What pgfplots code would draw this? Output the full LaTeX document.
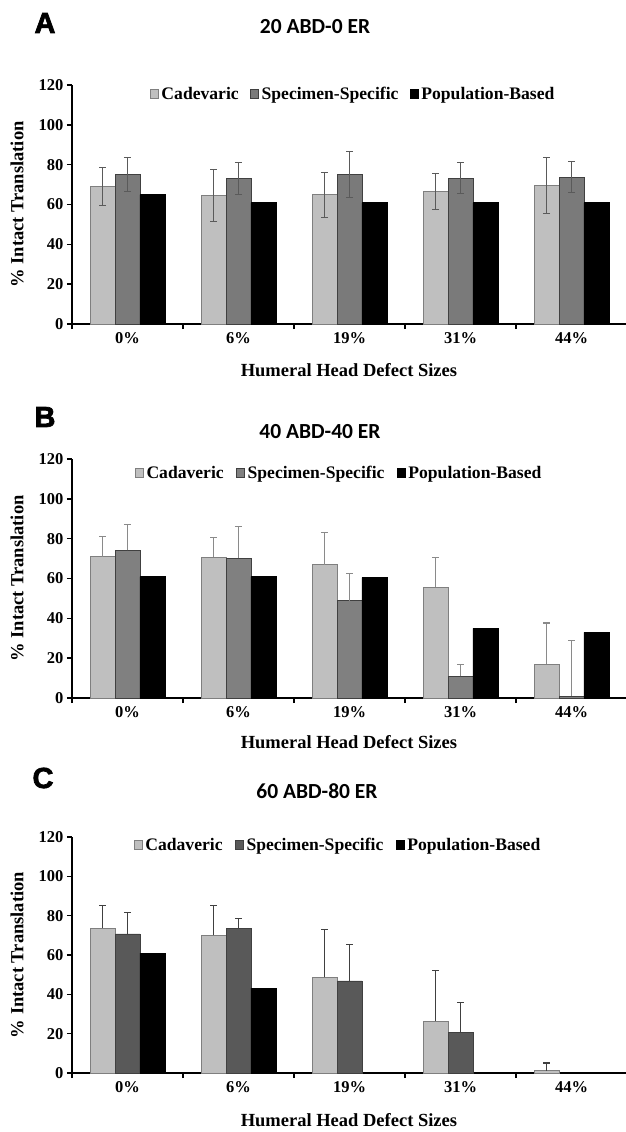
\documentclass[border=0pt]{standalone}
\usepackage{pgfplots}
\pgfplotsset{compat=1.18}
\usepackage{fontspec}
\setmainfont{Liberation Serif}
\newfontfamily\carlito{Carlito}
\newfontfamily\lsans{Liberation Sans}[BoldFeatures={FakeBold=2.5}]
\definecolor{cadfill}{HTML}{BFBFBF}
\definecolor{cadedge}{HTML}{7F7F7F}
\definecolor{specA}{HTML}{7A7A7A}
\definecolor{specB}{HTML}{808080}
\definecolor{specC}{HTML}{595959}
\definecolor{errA}{HTML}{5A5A5A}
\definecolor{errB}{HTML}{8A8A8A}
\definecolor{errC}{HTML}{404040}
\newcommand\tickfont{\fontsize{16.5bp}{18bp}\selectfont\bfseries}
\newcommand\legfont{\fontsize{17.6bp}{19bp}\selectfont\bfseries}
\newcommand\labfont{\fontsize{18.5bp}{20bp}\selectfont\bfseries}
\newcommand\titfont{\fontsize{21.5bp}{24bp}\selectfont\carlito\bfseries}
\newcommand\letfont{\fontsize{29bp}{31bp}\selectfont\lsans\bfseries}
\pgfplotsset{
  panel/.style={
    scale only axis, width=555bp,
    xmin=-0.5, xmax=4.5, ymin=0, ymax=120,
    axis x line*=bottom, axis y line*=left,
    axis line style={line width=1.9bp, black},
    ytick={0,20,...,120},
    xtick={0,1,2,3,4},
    xticklabels={0\%,6\%,19\%,31\%,44\%},
    minor xtick={-0.5,0.5,1.5,2.5,3.5},
    major x tick style={draw=none},
    tick align=outside,
    major tick length=5bp, minor tick length=5bp,
    every tick/.style={line width=1.5bp, black},
    minor tick style={line width=1.5bp, black},
    ticklabel style={font=\tickfont},
    /pgf/number format/assume math mode=true,
    xlabel={Humeral Head Defect Sizes},
    ylabel={\% Intact Translation},
    label style={font=\labfont},
    ybar=0pt, bar width=0.225,
    legend columns=-1,
    legend style={draw=none, fill=none, inner sep=0pt, font=\legfont,
      nodes={inner sep=2.3bp},
      /tikz/every even column/.append style={column sep=9bp}},
  },
  sq/.style={legend image code/.code={\draw[##1] (0bp,-4.2bp) rectangle (8.4bp,4.2bp);}},
  cad/.style={sq, fill=cadfill, draw=cadedge, line width=0.9bp, bar shift=-0.225},
  spec/.style={sq, fill=#1, draw=black!75, line width=0.9bp, bar shift=0},
  pop/.style={sq, fill=black, draw=black, line width=0.9bp, bar shift=0.225},
  errboth/.style={error bars/.cd, y dir=both, y explicit,
    error bar style={line width=0.9bp, color=#1},
    error mark options={rotate=90, mark size=3.5bp, line width=0.9bp, color=#1}},
  errplus/.style={error bars/.cd, y dir=plus, y explicit,
    error bar style={line width=1.3bp, color=#1},
    error mark options={rotate=90, mark size=3.5bp, line width=1.3bp, color=#1}},
}
\begin{document}
\begin{tikzpicture}
\path[use as bounding box] (0,0) rectangle (626bp,-1132bp);
% ---------------- A ----------------
\node[font=\letfont] at (45bp,-23bp) {A};
\node[font=\titfont] at (315bp,-27bp) {20 ABD-0 ER};
\begin{axis}[panel, height=239bp, at={(72bp,-324bp)}, anchor=south west,
  xlabel style={at={(axis description cs:0.499,-0.192)}, anchor=center},
  ylabel style={at={(axis description cs:-0.099,0.5)}, anchor=center},
  legend style={at={(0.140,0.962)}, anchor=west}]
\addplot+[cad, errboth=errA] coordinates {
  (0,68.9) +- (0,9.6) (1,64.4) +- (0,13.1) (2,64.9) +- (0,11.3) (3,66.6) +- (0,9.0) (4,69.4) +- (0,14.0)};
\addplot+[spec=specA, errboth=errA] coordinates {
  (0,75.1) +- (0,8.4) (1,73.1) +- (0,8.1) (2,75.1) +- (0,11.5) (3,73.3) +- (0,7.9) (4,73.8) +- (0,7.9)};
\addplot+[pop] coordinates {(0,65.0) (1,60.8) (2,60.8) (3,60.8) (4,60.8)};
\legend{Cadevaric,Specimen-Specific,Population-Based}
\end{axis}
% ---------------- B ----------------
\node[font=\letfont] at (45bp,-417bp) {B};
\node[font=\titfont] at (320bp,-432bp) {40 ABD-40 ER};
\begin{axis}[panel, height=239bp, at={(72bp,-698bp)}, anchor=south west,
  xlabel style={at={(axis description cs:0.499,-0.184)}, anchor=center},
  ylabel style={at={(axis description cs:-0.099,0.5)}, anchor=center},
  legend style={at={(0.113,0.941)}, anchor=west,
    /tikz/every even column/.append style={column sep=10bp}}]
\addplot+[cad, errplus=errB] coordinates {
  (0,70.9) +- (0,10.1) (1,70.7) +- (0,9.8) (2,67.0) +- (0,16.0) (3,55.6) +- (0,14.8) (4,17.0) +- (0,20.7)};
\addplot+[spec=specB, errplus=errB] coordinates {
  (0,74.1) +- (0,12.9) (1,70.2) +- (0,16.0) (2,48.8) +- (0,13.8) (3,10.9) +- (0,5.8) (4,1.0) +- (0,27.8)};
\addplot+[pop] coordinates {(0,60.9) (1,60.9) (2,60.4) (3,35.0) (4,33.0)};
\legend{Cadaveric,Specimen-Specific,Population-Based}
\end{axis}
% ---------------- C ----------------
\node[font=\letfont] at (43bp,-778bp) {C};
\node[font=\titfont] at (317bp,-791bp) {60 ABD-80 ER};
\begin{axis}[panel, height=236bp, at={(72bp,-1073bp)}, anchor=south west,
  xlabel style={at={(axis description cs:0.499,-0.199)}, anchor=center},
  ylabel style={at={(axis description cs:-0.099,0.5)}, anchor=center},
  legend style={at={(0.111,0.966)}, anchor=west,
    /tikz/every even column/.append style={column sep=10bp}}]
\addplot+[cad, errplus=errC] coordinates {
  (0,73.7) +- (0,11.6) (1,70.0) +- (0,15.3) (2,48.6) +- (0,24.3) (3,26.4) +- (0,25.8) (4,1.2) +- (0,3.9)};
\addplot+[spec=specC, errplus=errC] coordinates {
  (0,70.7) +- (0,10.8) (1,73.7) +- (0,4.8) (2,46.8) +- (0,18.5) (3,20.7) +- (0,15.1)};
\addplot+[pop] coordinates {(0,61.0) (1,43.2)};
\legend{Cadaveric,Specimen-Specific,Population-Based}
\end{axis}
\end{tikzpicture}
\end{document}
